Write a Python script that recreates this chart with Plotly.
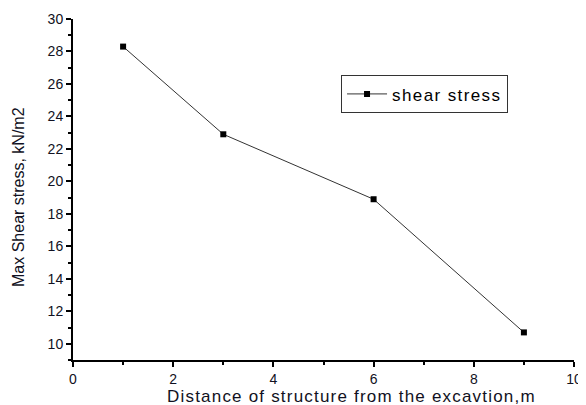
import plotly.graph_objects as go

distance = [1, 3, 6, 9]
shear_stress = [28.3, 22.9, 18.9, 10.7]

fig = go.Figure()
fig.add_trace(go.Scatter(
    x=distance, y=shear_stress, mode="lines+markers",
    name='<span style="letter-spacing:1.4px">shear stress</span>',
    line=dict(color="#333333", width=1),
    marker=dict(symbol="square", size=6, color="black"),
))

font = "Liberation Sans, Arial, sans-serif"
fig.update_layout(
    width=578, height=397,
    margin=dict(l=65, r=12, t=11, b=45, autoexpand=False),
    plot_bgcolor="white", paper_bgcolor="white",
    font=dict(family=font, size=14, color="#111122"),
    showlegend=True,
    legend=dict(x=0.535, y=0.779, xanchor="left", yanchor="middle",
                bordercolor="#333333", borderwidth=1, bgcolor="white",
                font=dict(size=17, color="black"),
                itemwidth=40, tracegroupgap=0),
    xaxis=dict(range=[0, 10], tickvals=[0, 2, 4, 6, 8, 10],
               showline=True, linecolor="black", linewidth=2,
               ticks="outside", ticklen=5, tickwidth=2, tickcolor="black",
               minor=dict(ticks="outside", ticklen=3, tickwidth=1.5, tickcolor="black", dtick=1),
               showgrid=False, zeroline=False, automargin=False),
    yaxis=dict(range=[9, 30], tickvals=[10, 12, 14, 16, 18, 20, 22, 24, 26, 28, 30],
               showline=True, linecolor="black", linewidth=2,
               ticks="outside", ticklen=5, tickwidth=2, tickcolor="black",
               minor=dict(ticks="outside", ticklen=3, tickwidth=1.5, tickcolor="black", tickvals=[9,11,13,15,17,19,21,23,25,27,29]),
               showgrid=False, zeroline=False, automargin=False),
    annotations=[
        dict(text='<span style="letter-spacing:1.2px">Distance of structure from the excavtion,m</span>',
             xref="paper", yref="paper",
             x=0.555, y=0, xanchor="center", yanchor="middle", yshift=-36,
             showarrow=False, font=dict(size=17, color="#111122")),
        dict(text="Max Shear stress, kN/m2", xref="paper", yref="paper",
             x=0, y=0.478, xanchor="center", yanchor="middle", xshift=-55, textangle=-90,
             showarrow=False, font=dict(size=16, color="#111122")),
    ],
)
fig.write_html("out.html")
